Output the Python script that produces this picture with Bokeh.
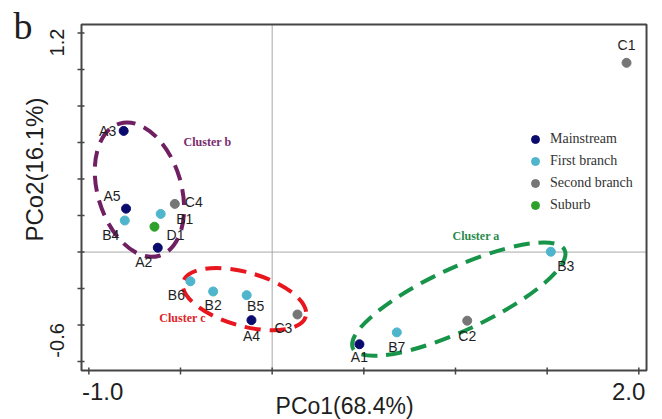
import math
from bokeh.plotting import figure
from bokeh.models import Range1d, Label, Legend, LegendItem, ColumnDataSource
from bokeh.core.properties import value
from bokeh.embed import file_html
from bokeh.resources import INLINE

# ---------------- data ----------------
mainstream_names = ["A1", "A2", "A3", "A4", "A5"]
mainstream_x = [0.476, -0.624, -0.810, -0.113, -0.797]
mainstream_y = [-0.505, 0.024, 0.664, -0.373, 0.238]

first_names = ["B1", "B2", "B3", "B4", "B5", "B6", "B7"]
first_x = [-0.608, -0.322, 1.520, -0.804, -0.139, -0.446, 0.680]
first_y = [0.209, -0.216, 0.002, 0.173, -0.236, -0.160, -0.440]

second_names = ["C1", "C2", "C3", "C4"]
second_x = [1.933, 1.064, 0.138, -0.531]
second_y = [1.037, -0.376, -0.342, 0.264]

suburb_names = ["D1"]
suburb_x = [-0.642]
suburb_y = [0.139]

group_labels = ["Mainstream", "First branch", "Second branch", "Suburb"]

cluster_names = ["Cluster a", "Cluster b", "Cluster c"]
cluster_cx = [1.018, -0.724, -0.151]
cluster_cy = [-0.258, 0.342, -0.258]
cluster_w = [1.273, 0.753, 0.695]
cluster_h = [0.342, 0.458, 0.294]
cluster_angle_deg = [24.9, 106.7, -15.8]

x_tick_values = [-1.0, -0.5, 0.0, 0.5, 1.0, 1.5, 2.0]
y_tick_values = [-0.6, -0.4, -0.2, 0.0, 0.2, 0.4, 0.6, 0.8, 1.0, 1.2]
x_tick_labels = ["-1.0", "2.0"]
y_tick_labels = ["1.2", "-0.6"]
x_title = "PCo1(68.4%)"
y_title = "PCo2(16.1%)"
panel_tag = "b"

# plotting-area limits (axis box)
x_lo, x_hi = -1.040, 2.042
y_lo, y_hi = -0.649, 1.247

# ---------------- layout / styles ----------------
W, H = 662, 419
box_left_px, box_top_px = 81, 24
kx = 183.33   # px per unit, x
ky = 182.5    # px per unit, y
canvas_x = (x_lo - box_left_px / kx, x_lo + (W - box_left_px) / kx)
canvas_y = (y_hi - (H - box_top_px) / ky, y_hi + box_top_px / ky)

group_colors = ["#0b0b6e", "#4eb5cd", "#767676", "#2ea12a"]
cluster_colors = ["#17944a", "#701f63", "#e8161e"]
cluster_text_colors = ["#2b8a4c", "#7a2c6e", "#e02428"]
axis_color = "#454545"
text_color = "#1e1e1e"

# point-label offsets in screen pixels (dx, dy; dy positive = down)
label_offsets = {
    "A3": (-16, 0), "A5": (-14, -13), "B4": (-14, 14), "C4": (19, -2),
    "B1": (24, 5), "D1": (21, 8), "A2": (-14, 14), "B6": (-14, 14),
    "B2": (0, 14), "B5": (9, 11), "A4": (0, 16), "C3": (-14, 14),
    "A1": (0, 13), "B7": (0, 15), "C2": (0, 15), "B3": (15, 14), "C1": (0, -18),
}

p = figure(width=W, height=H, output_backend="svg", toolbar_location=None,
           x_range=Range1d(*canvas_x), y_range=Range1d(*canvas_y),
           min_border=0)
p.axis.visible = False
p.grid.visible = False
p.outline_line_color = None
p.background_fill_color = "white"
p.border_fill_color = "white"

# reference lines through origin (inside the axis box)
p.segment(x0=[0.0, x_lo], y0=[y_lo, 0.0], x1=[0.0, x_hi], y1=[y_hi, 0.0],
          line_color="#a8a8a8", line_width=1)

# axis box
p.quad(left=[x_lo], right=[x_hi], bottom=[y_lo], top=[y_hi], fill_alpha=0,
       line_color=axis_color, line_width=2)

# tick marks (4 px out, 3 px in)
p.segment(x0=x_tick_values, x1=x_tick_values,
          y0=[y_lo - 4 / ky] * len(x_tick_values), y1=[y_lo + 3 / ky] * len(x_tick_values),
          line_color=axis_color, line_width=1.5)
p.segment(y0=y_tick_values, y1=y_tick_values,
          x0=[x_lo - 4 / kx] * len(y_tick_values), x1=[x_lo + 3 / kx] * len(y_tick_values),
          line_color=axis_color, line_width=1.5)

# cluster ellipses
csrc = ColumnDataSource(dict(x=cluster_cx, y=cluster_cy, w=cluster_w, h=cluster_h,
                             a=[math.radians(d) for d in cluster_angle_deg], c=cluster_colors))
p.ellipse(x="x", y="y", width="w", height="h", angle="a", source=csrc,
          fill_alpha=0, line_color="c", line_width=4, line_dash="16 9")

# points
groups = [
    (mainstream_names, mainstream_x, mainstream_y),
    (first_names, first_x, first_y),
    (second_names, second_x, second_y),
    (suburb_names, suburb_x, suburb_y),
]
renderers = []
all_names, all_x, all_y = [], [], []
for (names, xs, ys), col in zip(groups, group_colors):
    r = p.scatter(x=xs, y=ys, size=9, marker="circle", fill_color=col, line_color=col)
    renderers.append(r)
    all_names += names
    all_x += xs
    all_y += ys

tsrc = ColumnDataSource(dict(x=all_x, y=all_y, t=all_names,
                             dx=[label_offsets[n][0] for n in all_names],
                             dy=[label_offsets[n][1] for n in all_names]))
p.text(x="x", y="y", text="t", x_offset="dx", y_offset="dy", source=tsrc,
       text_font=value("Liberation Sans"), text_font_size="14px", text_color=text_color,
       text_align="center", text_baseline="middle")

# cluster text labels
cluster_label_x = [1.112, -0.353, -0.489]
cluster_label_y = [0.086, 0.604, -0.362]
for name, lx, ly, col in zip(cluster_names, cluster_label_x, cluster_label_y, cluster_text_colors):
    p.add_layout(Label(x=lx, y=ly, text=name, text_font="Liberation Serif", text_font_style="bold",
                       text_font_size="12px", text_color=col, text_align="center",
                       text_baseline="middle"))

# legend (location = offset of legend's bottom-left from frame bottom-left, px)
legend = Legend(items=[LegendItem(label=l, renderers=[r]) for l, r in zip(group_labels, renderers)],
                location=(515, 194), border_line_alpha=0, background_fill_alpha=0,
                label_text_font="Liberation Serif", label_text_font_size="14px",
                label_text_color="#333333", glyph_width=20, glyph_height=20,
                label_height=20, spacing=2, padding=10, margin=0, label_standoff=5)
p.add_layout(legend)

# tick labels and axis titles
def add_text(x, y, text, size, angle=0.0, font="Liberation Sans", align="center", baseline="middle"):
    p.add_layout(Label(x=x, y=y, text=text, angle=angle, text_font=font, text_font_size=size,
                       text_color=text_color, text_align=align, text_baseline=baseline))

add_text(-0.925, -0.764, x_tick_labels[0], "24px")
add_text(1.944, -0.764, x_tick_labels[1], "24px")
add_text(-1.171, 1.148, y_tick_labels[0], "20px", angle=math.pi / 2)
add_text(-1.171, -0.484, y_tick_labels[1], "20px", angle=math.pi / 2)
add_text(0.395, -0.843, x_title, "23px")
add_text(-1.296, 0.452, y_title, "24px", angle=math.pi / 2)
add_text(-1.411, 1.241, panel_tag, "38px", font="Liberation Serif", align="left", baseline="alphabetic")

open("out.html", "w").write(file_html(p, INLINE))
